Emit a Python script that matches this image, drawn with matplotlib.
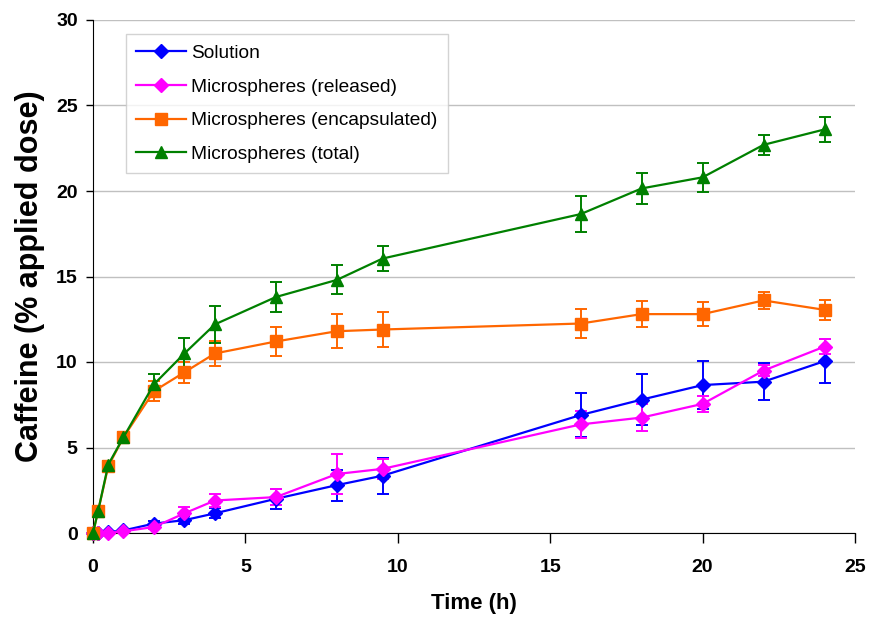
import matplotlib
matplotlib.use("Agg")
import matplotlib.pyplot as plt
from matplotlib.lines import Line2D
from matplotlib import font_manager as fm

names = {f.name for f in fm.fontManager.ttflist}
narrow = "Liberation Sans Narrow" if "Liberation Sans Narrow" in names else "Liberation Sans"

# ---- data ----
time = [0, 0.17, 0.5, 1, 2, 3, 4, 6, 8, 9.5, 16, 18, 20, 22, 24]

solution = [0, 0.0, 0.05, 0.15, 0.55, 0.75, 1.15, 2.0, 2.8, 3.35, 6.9, 7.8, 8.65, 8.85, 10.05]
solution_err = [0, 0, 0, 0.05, 0.15, 0.25, 0.3, 0.6, 0.9, 1.05, 1.27, 1.5, 1.4, 1.1, 1.27]

released = [0, 0.0, 0.0, 0.1, 0.35, 1.15, 1.9, 2.1, 3.45, 3.75, 6.35, 6.75, 7.55, 9.5, 10.9]
released_err = [0, 0, 0, 0.05, 0.1, 0.35, 0.4, 0.45, 1.15, 0.6, 0.8, 0.8, 0.47, 0.3, 0.45]

encapsulated = [0, 1.3, 3.9, 5.6, 8.3, 9.4, 10.5, 11.2, 11.8, 11.9, 12.25, 12.8, 12.8, 13.6, 13.05]
encapsulated_err = [0, 0.2, 0.2, 0.3, 0.6, 0.6, 0.75, 0.85, 1.0, 1.0, 0.85, 0.75, 0.72, 0.5, 0.6]

total = [0, 1.3, 4.0, 5.6, 8.7, 10.5, 12.2, 13.8, 14.8, 16.05, 18.65, 20.15, 20.8, 22.7, 23.6]
total_err = [0, 0.2, 0.2, 0.3, 0.6, 0.9, 1.1, 0.9, 0.85, 0.75, 1.07, 0.9, 0.83, 0.6, 0.72]

labels = ["Solution", "Microspheres (released)",
          "Microspheres (encapsulated)", "Microspheres (total)"]

xticks = [0, 5, 10, 15, 20, 25]
yticks = [0, 5, 10, 15, 20, 25, 30]

# ---- plot ----
fig = plt.figure(figsize=(8.76, 6.35), dpi=100)
ax = fig.add_axes([93/876, 102/635, 762/876, 513/635])

series = [
    (solution, solution_err, "#0000FF", "D", 7),
    (released, released_err, "#FF00FF", "D", 7),
    (encapsulated, encapsulated_err, "#FF6600", "s", 8),
    (total, total_err, "#008000", "^", 8.5),
]
handles = []
for (vals, err, col, mk, ms), lab in zip(series, labels):
    ax.errorbar(time, vals, yerr=err, color=col, marker=mk, markersize=ms,
                linewidth=1.6, elinewidth=1.4, capsize=4.5, capthick=1.4,
                clip_on=False, zorder=3)
    handles.append(Line2D([], [], color=col, marker=mk, markersize=ms,
                          linewidth=1.6, label=lab))

ax.set_xlim(0, 25)
ax.set_ylim(0, 30)
ax.set_xticks(xticks)
ax.set_yticks(yticks)
ax.yaxis.grid(True, color="#c0c0c0", linewidth=1.0)
ax.set_axisbelow(True)
for s in ("top", "right"):
    ax.spines[s].set_visible(False)
ax.spines["left"].set_color("black")
ax.spines["bottom"].set_color("black")
ax.tick_params(axis="x", direction="out", length=7, width=1, pad=12)
ax.tick_params(axis="y", direction="out", length=5, width=1, pad=6)
for t in ax.get_xticklabels() + ax.get_yticklabels():
    t.set_fontfamily(narrow)
    t.set_fontweight("bold")
    t.set_fontsize(14)

ax.set_xlabel("Time (h)", fontfamily=narrow, fontweight="bold", fontsize=16, labelpad=12)
ax.set_ylabel("Caffeine (% applied dose)", fontfamily="Liberation Sans",
              fontweight="bold", fontsize=22, labelpad=8)

leg = ax.legend(handles=handles, loc="upper left", bbox_to_anchor=(0.043, 0.973),
                prop={"family": narrow, "size": 13.8}, frameon=True,
                fancybox=False, edgecolor="#c8c8c8", handlelength=2.6,
                borderpad=0.55, labelspacing=0.85, handletextpad=0.25,
                borderaxespad=0)
leg.get_frame().set_linewidth(1.0)

fig.savefig("out.png", dpi=100)
